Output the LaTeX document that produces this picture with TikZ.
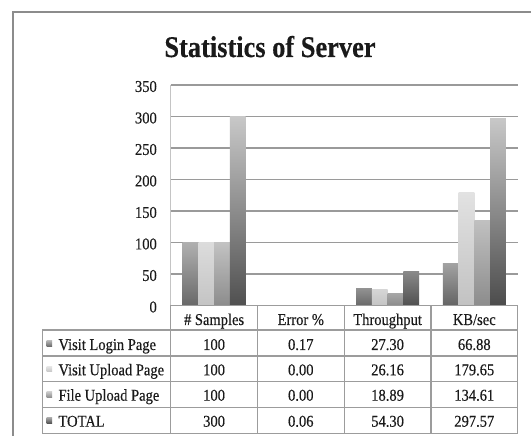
\documentclass[tikz,border=0pt]{standalone}
\usepackage{fontspec}
\setmainfont[FakeStretch=0.88,FakeBold=0.35]{Liberation Serif}
\usetikzlibrary{calc}
\definecolor{framec}{HTML}{8C8C8C}
\definecolor{gridc}{HTML}{9A9A9A}
\definecolor{axisc}{HTML}{C4C4C4}
\definecolor{tablec}{HTML}{9C9C9C}
\definecolor{textc}{HTML}{1A1A1A}
\newcommand\chartbar[5]{%
  \pgfmathsetmacro\bx{170.7+#1*86.75+11.8+#2*15.8}%
  \pgfmathsetmacro\bh{#3*0.63}%
  \definecolor{bartop}{HTML}{#4}\definecolor{barbot}{HTML}{#5}%
  \shade[top color=bartop,bottom color=barbot] (\bx,130.5) rectangle ++(15.8,\bh);%
}
\newcommand\legendsq[3]{%
  \definecolor{bartop}{HTML}{#2}\definecolor{barbot}{HTML}{#3}%
  \shade[top color=bartop,bottom color=barbot] (46.7,#1) rectangle ++(5.5,5.5);%
}
\begin{document}
\begin{tikzpicture}[x=1pt,y=1pt,
  ticklabel/.style={anchor=east,font=\fontsize{16.5}{16.5}\selectfont,text=textc,inner sep=0pt},
  celltext/.style={anchor=base,font=\fontsize{16.5}{16.5}\selectfont,text=textc,inner sep=0pt},
  rowlabel/.style={anchor=base west,font=\fontsize{16.5}{16.5}\selectfont,text=textc,inner sep=0pt},
  gridline/.style={draw=gridc,line width=1.2pt},
  tableline/.style={draw=tablec,line width=1.1pt}]
\useasboundingbox (0,0) rectangle (531,436);
\fill[white] (0,0) rectangle (531,436);
% outer frame (cut at right and bottom)
\draw[framec,line width=1.2pt] (13,0) -- (13,424) -- (531,424);
% title
\node[anchor=base,font=\bfseries\fontsize{30}{30}\selectfont,text=textc,inner sep=0pt] (title) at (270,379) {Statistics of Server};
% gridlines
\foreach \v in {50,100,...,350}{
  \draw[gridline] (170.7,{130.5+\v*0.63}) -- (517.7,{130.5+\v*0.63});
}
\draw[axisc,line width=0.8pt] (170.7,130.5) -- (170.7,351);
% tick labels
\foreach \v in {0,50,...,350}{
  \node[ticklabel] (t\v) at (157,{129+\v*0.63}) {\v};
}
% bars: # Samples
\chartbar{0}{0}{100}{B0B0B0}{686868}
\chartbar{0}{1}{100}{DCDCDC}{C4C4C4}
\chartbar{0}{2}{100}{C2C2C2}{8C8C8C}
\chartbar{0}{3}{300}{C8C8C8}{505050}
% Throughput
\chartbar{2}{0}{27.30}{929292}{686868}
\chartbar{2}{1}{26.16}{D6D6D6}{C4C4C4}
\chartbar{2}{2}{18.89}{A6A6A6}{8C8C8C}
\chartbar{2}{3}{54.30}{8A8A8A}{505050}
% KB/sec
\chartbar{3}{0}{66.88}{A2A2A2}{646464}
\chartbar{3}{1}{179.65}{E2E2E2}{C2C2C2}
\chartbar{3}{2}{134.61}{C0C0C0}{8C8C8C}
\chartbar{3}{3}{297.57}{C8C8C8}{4C4C4C}
% table grid
\draw[tableline] (170.7,130.5) -- (517.7,130.5);
\draw[tableline] (42.3,106) -- (517.7,106);
\foreach \yy in {80,54.3,28.3,2.7}{
  \draw[tableline] (42.3,\yy) -- (517.7,\yy);
}
\draw[tableline] (42.3,106) -- (42.3,2.7);
\foreach \xx in {170.7,257.45,344.2,430.95,517.7}{
  \draw[tableline] (\xx,130.5) -- (\xx,2.7);
}
% header
\node[celltext] (h1) at (214.1,111) {\# Samples};
\node[celltext] (h2) at (300.8,111) {Error \%};
\node[celltext] (h3) at (387.6,111) {Throughput};
\node[celltext] (h4) at (474.3,111) {KB/sec};
% row labels with legend markers
\legendsq{89.5}{B0B0B0}{686868}
\legendsq{64}{E4E4E4}{C4C4C4}
\legendsq{38.5}{C8C8C8}{8C8C8C}
\legendsq{12.5}{A0A0A0}{505050}
\node[rowlabel] (r1) at (58.3,86) {Visit Login Page};
\node[rowlabel] (r2) at (58.3,60.7) {Visit Upload Page};
\node[rowlabel] (r3) at (58.3,35.3) {File Upload Page};
\node[rowlabel] (r4) at (58.3,9.3) {TOTAL};
% data
\node[celltext] (c11) at (214.1,86) {100};
\node[celltext] (c12) at (300.8,86) {0.17};
\node[celltext] (c13) at (387.6,86) {27.30};
\node[celltext] (c14) at (474.3,86) {66.88};
\node[celltext] (c21) at (214.1,60.7) {100};
\node[celltext] (c22) at (300.8,60.7) {0.00};
\node[celltext] (c23) at (387.6,60.7) {26.16};
\node[celltext] (c24) at (474.3,60.7) {179.65};
\node[celltext] (c31) at (214.1,35.3) {100};
\node[celltext] (c32) at (300.8,35.3) {0.00};
\node[celltext] (c33) at (387.6,35.3) {18.89};
\node[celltext] (c34) at (474.3,35.3) {134.61};
\node[celltext] (c41) at (214.1,9.3) {300};
\node[celltext] (c42) at (300.8,9.3) {0.06};
\node[celltext] (c43) at (387.6,9.3) {54.30};
\node[celltext] (c44) at (474.3,9.3) {297.57};
\end{tikzpicture}
\end{document}
